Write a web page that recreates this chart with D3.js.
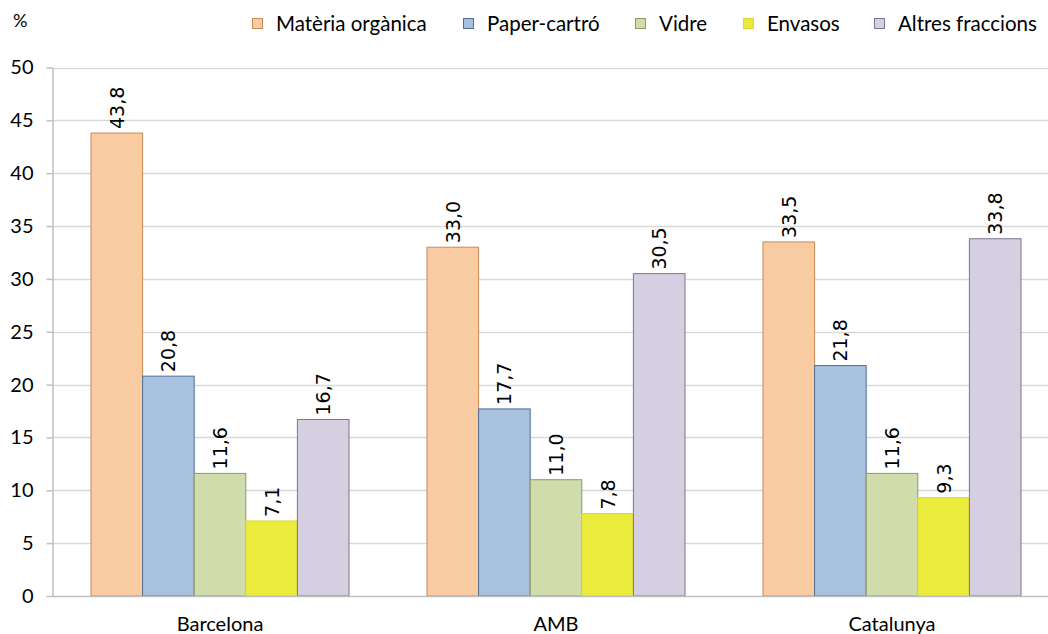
<!DOCTYPE html>
<html><head><meta charset="utf-8">
<script src="https://cdn.jsdelivr.net/npm/d3@7"></script>
<style>body{margin:0;background:#fff}svg{display:block}</style>
</head><body>
<svg id="c" width="1048" height="634"></svg>
<script>
const categories = ["Barcelona", "AMB", "Catalunya"];
const seriesNames = ["Matèria orgànica", "Paper-cartró", "Vidre", "Envasos", "Altres fraccions"];
const organica = [43.8, 33.0, 33.5];
const paper = [20.8, 17.7, 21.8];
const vidre = [11.6, 11.0, 11.6];
const envasos = [7.1, 7.8, 9.3];
const altres = [16.7, 30.5, 33.8];
const yTicks = [0, 5, 10, 15, 20, 25, 30, 35, 40, 45, 50];
const fills = ["#F9CBA3", "#A7C1DE", "#D0DCAC", "#EBEB3C", "#D6CFE1"];
const strokes = ["#C98A55", "#4F7095", "#8B9B5E", "#D8D83A", "#7E7391"];

const seriesValues = [organica, paper, vidre, envasos, altres];
const svg = d3.select("#c");
const mLeft = 52, mRight = 1060, mTop = 67.5, mBottom = 596;
const y = d3.scaleLinear().domain([0, 50]).range([mBottom, mTop]);
const x0 = d3.scaleBand().domain(categories).range([mLeft, mRight]);
const x1 = d3.scaleBand().domain(seriesNames).range([39, 297]);
const font = "Lato, 'Open Sans', sans-serif";

// gridlines
svg.append("g").selectAll("line").data(yTicks.filter(d => d > 0)).join("line")
  .attr("x1", mLeft).attr("x2", 1048).attr("y1", d => Math.round(y(d)) + 0.5).attr("y2", d => Math.round(y(d)) + 0.5)
  .attr("stroke", "#D9D9D9").attr("stroke-width", 1.5);

// bars
const groups = svg.append("g").selectAll("g").data(categories).join("g")
  .attr("transform", c => `translate(${x0(c)},0)`);
groups.each(function(c, ci) {
  const g = d3.select(this);
  seriesNames.forEach((s, si) => {
    const v = seriesValues[si][ci];
    g.append("rect")
      .attr("x", x1(s)).attr("y", y(v)).attr("width", x1.bandwidth()).attr("height", y(0) - y(v))
      .attr("fill", fills[si]).attr("stroke", strokes[si]).attr("stroke-width", 1);
    const cx = x1(s) + x1.bandwidth() / 2;
    g.append("text")
      .attr("transform", `translate(${cx + 7},${y(v) - 4}) rotate(-90)`)
      .attr("text-anchor", "start")
      .style("font-family", "'DejaVu Sans', Verdana, sans-serif").style("font-size", "19px").attr("fill", "#000")
      .text(v.toFixed(1).replace(".", ","));
  });
});

// y axis
const yAxis = d3.axisLeft(y).tickValues(yTicks).tickSize(6).tickSizeOuter(0).tickPadding(13).tickFormat(d => d);
const ya = svg.append("g").attr("transform", `translate(${mLeft + 0.5},0)`).call(yAxis);
ya.select(".domain").attr("stroke", "#BFBFBF").attr("stroke-width", 1.5);
ya.selectAll(".tick line").attr("stroke", "#BFBFBF").attr("stroke-width", 1.5);
ya.selectAll(".tick text").attr("font-family", font).attr("font-size", 20).attr("fill", "#000");

// x axis
const xAxis = d3.axisBottom(x0).tickSize(0).tickPadding(20);
const xa = svg.append("g").attr("transform", `translate(0,${mBottom + 0.5})`).call(xAxis);
xa.select(".domain").attr("stroke", "#BFBFBF").attr("stroke-width", 1.5).attr("d", `M${mLeft},0H1048`);
xa.selectAll(".tick text").attr("font-family", font).attr("font-size", 20).attr("fill", "#000");

// unit label
svg.append("text").attr("x", 13).attr("y", 27).attr("font-family", font).attr("font-size", 18).text("%");

// legend
const legendX = [252, 463, 635, 743, 874];
const lg = svg.append("g").selectAll("g").data(seriesNames).join("g")
  .attr("transform", (d, i) => `translate(${legendX[i]},0)`);
lg.append("rect").attr("x", 0.5).attr("y", 18.5).attr("width", 10).attr("height", 10)
  .attr("fill", (d, i) => fills[i]).attr("stroke", (d, i) => strokes[i]);
lg.append("text").attr("x", 24).attr("y", 31).attr("font-family", font).attr("font-size", 20.5).text(d => d);
</script>
</body></html>
